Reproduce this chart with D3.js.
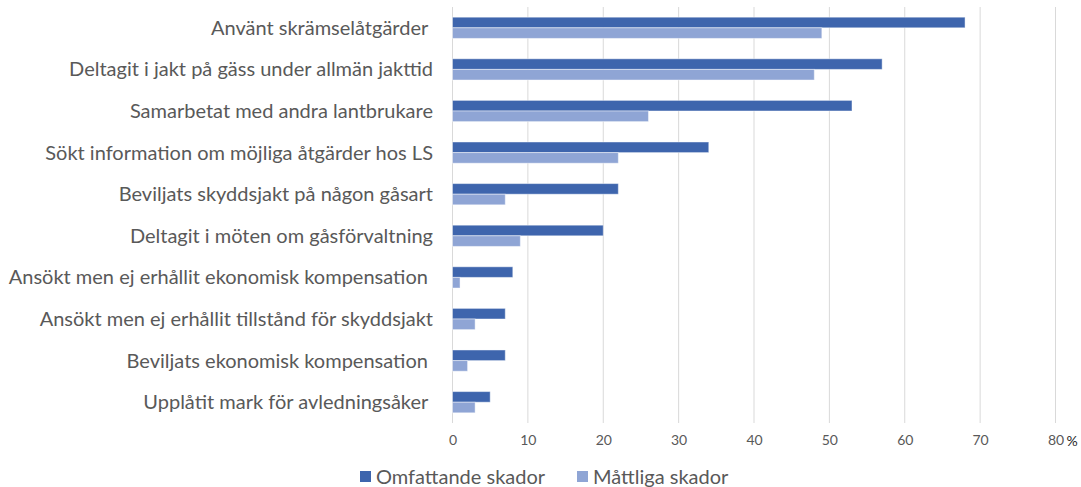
<!DOCTYPE html>
<html>
<head>
<meta charset="utf-8">
<script src="https://cdn.jsdelivr.net/npm/d3@7"></script>
<style>
  html, body { margin: 0; padding: 0; background: #fff; }
  svg { display: block; }
  text { font-family: Lato, "Open Sans", sans-serif; }
</style>
</head>
<body>
<svg id="chart" width="1081" height="487"></svg>
<script>
// Åtgärder bland lantbrukare, andel (%) per skadenivå
const categories = [
  "Använt skrämselåtgärder ",
  "Deltagit i jakt på gäss under allmän jakttid",
  "Samarbetat med andra lantbrukare",
  "Sökt information om möjliga åtgärder hos LS",
  "Beviljats skyddsjakt på någon gåsart",
  "Deltagit i möten om gåsförvaltning",
  "Ansökt men ej erhållit ekonomisk kompensation ",
  "Ansökt men ej erhållit tillstånd för skyddsjakt",
  "Beviljats ekonomisk kompensation ",
  "Upplåtit mark för avledningsåker "
];
const seriesNames = ["Omfattande skador", "Måttliga skador"];
const omfattande = [68, 57, 53, 34, 22, 20, 8, 7, 7, 5];
const mattliga   = [49, 48, 26, 22, 7, 9, 1, 3, 2, 3];
const xTicks = [0, 10, 20, 30, 40, 50, 60, 70, 80];
const unitLabel = "%";

const colors = ["#3E65AD", "#8FA5D5"];
const textColor = "#595959";

const svg = d3.select("#chart");

const plot = { left: 452.5, right: 1055.5, top: 7, bottom: 423 };

const x = d3.scaleLinear().domain([0, 80]).range([plot.left, plot.right]);
const y0 = d3.scaleBand()
  .domain(categories)
  .range([plot.top, plot.bottom])
  .paddingInner(0.49)
  .paddingOuter(0.245);
const y1 = d3.scaleBand()
  .domain(seriesNames)
  .range([0, y0.bandwidth()]);

// vertical gridlines
svg.append("g")
  .selectAll("line")
  .data(xTicks)
  .join("line")
  .attr("x1", d => x(d)).attr("x2", d => x(d))
  .attr("y1", plot.top).attr("y2", plot.bottom)
  .attr("stroke", "#d9d9d9")
  .attr("stroke-width", 1);

// bars
const rows = categories.map((c, i) => ({ cat: c, vals: [omfattande[i], mattliga[i]] }));
const groups = svg.append("g")
  .selectAll("g")
  .data(rows)
  .join("g")
  .attr("transform", d => `translate(0,${y0(d.cat)})`);

groups.selectAll("rect")
  .data(d => d.vals.map((v, j) => ({ v, s: seriesNames[j], j })))
  .join("rect")
  .attr("x", x(0))
  .attr("y", d => y1(d.s))
  .attr("width", d => x(d.v) - x(0))
  .attr("height", y1.bandwidth())
  .attr("fill", d => colors[d.j])
  .attr("stroke", "rgba(255,255,255,0.45)")
  .attr("stroke-width", 1);

// x axis tick labels
const xAxis = d3.axisBottom(x).tickValues(xTicks).tickSize(0).tickPadding(0);
const gx = svg.append("g")
  .attr("transform", `translate(0,${plot.bottom + 12})`)
  .call(xAxis);
gx.select(".domain").remove();
gx.selectAll("text")
  .attr("fill", textColor)
  .style("font-size", "14px")
  .style("font-family", "Lato, 'Open Sans', sans-serif");

svg.append("text")
  .attr("x", x(80) + 11)
  .attr("y", plot.bottom + 23)
  .attr("fill", "#262626")
  .style("font-size", "14px")
  .text(unitLabel);

// category labels
svg.append("g")
  .selectAll("text")
  .data(categories)
  .join("text")
  .attr("x", 433)
  .attr("y", d => y0(d) + y0.bandwidth() / 2)
  .attr("dy", "0.35em")
  .attr("text-anchor", "end")
  .attr("fill", textColor)
  .style("font-size", "20px")
  .style("white-space", "pre")
  .text(d => d);

// legend
const legendItems = [
  { name: seriesNames[0], color: colors[0], x: 360 },
  { name: seriesNames[1], color: colors[1], x: 577 }
];
const lg = svg.append("g")
  .selectAll("g")
  .data(legendItems)
  .join("g")
  .attr("transform", d => `translate(${d.x},471)`);
lg.append("rect")
  .attr("width", 11).attr("height", 11)
  .attr("fill", d => d.color);
lg.append("text")
  .attr("x", 16).attr("y", 6)
  .attr("dy", "0.35em")
  .attr("fill", textColor)
  .style("font-size", "20px")
  .text(d => d.name);
</script>
</body>
</html>
